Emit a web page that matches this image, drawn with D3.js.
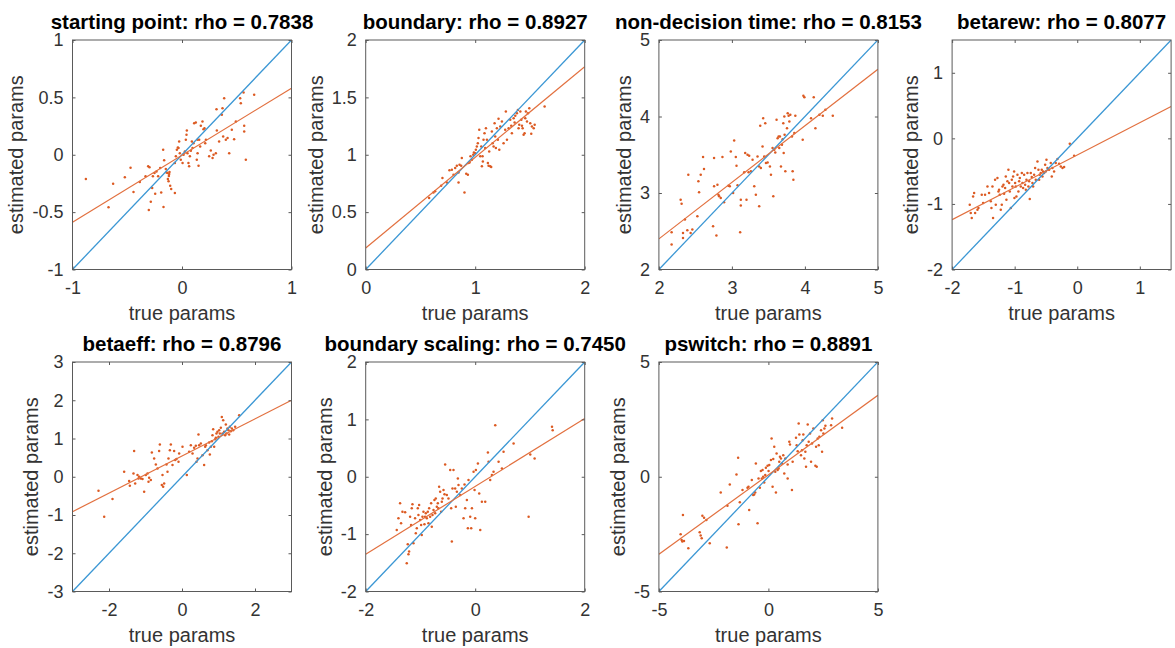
<!DOCTYPE html>
<html>
<head>
<meta charset="utf-8">
<script src="https://cdn.jsdelivr.net/npm/d3@7"></script>
<style>
  html, body { margin: 0; padding: 0; background: #ffffff; }
  svg { display: block; font-family: "Liberation Sans", Arial, Helvetica, sans-serif; }
</style>
</head>
<body>
<script>
// ---------------- data ----------------
const titles = [
  "starting point: rho = 0.7838",
  "boundary: rho = 0.8927",
  "non-decision time: rho = 0.8153",
  "betarew: rho = 0.8077",
  "betaeff: rho = 0.8796",
  "boundary scaling: rho = 0.7450",
  "pswitch: rho = 0.8891"
];
const xLabel = "true params";
const yLabel = "estimated params";

const xDomains = [[-1, 1], [0, 2], [2, 5], [-2, 1.5], [-3, 3], [-2, 2], [-5, 5]];
const yDomains = [[-1, 1], [0, 2], [2, 5], [-2, 1.5], [-3, 3], [-2, 2], [-5, 5]];
const xTicks = [[-1, 0, 1], [0, 1, 2], [2, 3, 4, 5], [-2, -1, 0, 1], [-2, 0, 2], [-2, 0, 2], [-5, 0, 5]];
const yTicks = [[-1, -0.5, 0, 0.5, 1], [0, 0.5, 1, 1.5, 2], [2, 3, 4, 5], [-2, -1, 0, 1],
                [-3, -2, -1, 0, 1, 2, 3], [-2, -1, 0, 1, 2], [-5, 0, 5]];

// regression (fit) lines: estimated = intercept + slope * true
const fitSlope     = [0.584, 0.790, 0.739, 0.493, 0.4855, 0.591, 0.693];
const fitIntercept = [-0.004, 0.188, 0.922, -0.254, 0.543, -0.168, 0.087];

// scatter points [true, estimated]
const ptsStart = [[-0.878,-0.212],[-0.671,-0.458],[-0.629,-0.252],[-0.522,-0.197],[-0.470,-0.113],[-0.443,-0.325],[-0.385,-0.238],[-0.333,-0.188],[-0.309,-0.101],[-0.297,-0.110],[-0.303,-0.481],[-0.285,-0.409],[-0.272,-0.290],[-0.266,-0.188],[-0.251,-0.159],[-0.245,-0.339],[-0.233,-0.145],[-0.218,-0.188],[-0.199,-0.116],[-0.190,-0.330],[-0.172,0.043],[-0.169,-0.455],[-0.163,-0.049],[-0.148,-0.125],[-0.142,-0.154],[-0.132,-0.159],[-0.129,-0.212],[-0.123,-0.232],[-0.120,-0.186],[-0.117,-0.168],[-0.114,-0.151],[-0.108,-0.270],[-0.099,-0.299],[-0.065,-0.333],[-0.065,-0.072],[-0.056,-0.014],[-0.047,0.043],[-0.038,0.064],[-0.026,0.116],[-0.032,0.058],[-0.020,0.014],[-0.011,-0.043],[0.005,-0.072],[0.014,0.000],[0.026,0.029],[0.035,0.130],[0.041,0.174],[0.044,0.212],[0.050,0.014],[0.059,-0.072],[0.065,-0.101],[0.072,-0.014],[0.081,0.035],[0.090,0.116],[0.096,0.058],[0.105,0.101],[0.111,0.275],[0.126,0.281],[0.135,-0.043],[0.142,0.130],[0.142,0.014],[0.151,-0.096],[0.157,0.130],[0.166,0.072],[0.172,0.252],[0.187,0.290],[0.196,0.223],[0.205,0.232],[0.212,0.101],[0.218,0.130],[0.248,-0.014],[0.263,0.038],[0.279,-0.029],[0.288,0.000],[0.309,0.014],[0.315,0.397],[0.318,0.212],[0.339,0.116],[0.364,0.348],[0.370,0.406],[0.376,0.159],[0.385,0.493],[0.400,0.130],[0.416,0.145],[0.431,0.014],[0.455,0.217],[0.476,0.136],[0.492,0.290],[0.531,0.493],[0.537,0.449],[0.562,0.542],[0.568,0.252],[0.568,0.203],[0.583,-0.043],[0.659,0.522]];

const ptsBoundary = [[0.579,0.623],[0.619,0.672],[0.634,0.681],[0.689,0.730],[0.701,0.797],[0.741,0.759],[0.765,0.864],[0.787,0.870],[0.802,0.826],[0.817,0.884],[0.832,0.904],[0.848,0.759],[0.848,0.846],[0.857,0.913],[0.872,0.904],[0.878,0.971],[0.902,0.672],[0.918,0.835],[0.933,0.826],[0.939,0.928],[0.948,0.933],[0.957,0.986],[0.970,0.957],[0.982,1.000],[0.988,1.020],[1.000,1.014],[1.006,1.043],[1.015,1.072],[1.024,1.101],[1.030,1.145],[1.037,1.217],[1.046,0.986],[1.055,1.072],[1.061,0.899],[1.067,0.986],[1.070,0.942],[1.076,1.130],[1.085,1.188],[1.091,1.058],[1.098,1.232],[1.107,1.130],[1.116,0.928],[1.122,0.904],[1.128,1.029],[1.137,0.899],[1.146,0.893],[1.152,1.203],[1.159,1.101],[1.168,1.072],[1.177,1.275],[1.183,1.159],[1.189,1.058],[1.198,1.232],[1.207,1.130],[1.213,1.313],[1.220,1.043],[1.229,1.246],[1.244,1.290],[1.259,1.101],[1.274,1.217],[1.280,1.377],[1.290,1.130],[1.305,1.232],[1.320,1.304],[1.329,1.252],[1.335,1.188],[1.351,1.319],[1.360,1.281],[1.366,1.339],[1.381,1.362],[1.390,1.391],[1.396,1.232],[1.402,1.261],[1.412,1.377],[1.421,1.304],[1.427,1.252],[1.433,1.232],[1.442,1.174],[1.451,1.188],[1.457,1.319],[1.463,1.377],[1.473,1.290],[1.482,1.362],[1.494,1.406],[1.503,1.275],[1.512,1.183],[1.518,1.246],[1.534,1.232],[1.543,1.261],[1.634,1.420]];

const ptsNonDecision = [[2.174,2.487],[2.174,2.326],[2.298,2.913],[2.311,2.861],[2.330,2.478],[2.330,2.413],[2.357,2.652],[2.389,2.513],[2.403,3.239],[2.435,2.478],[2.458,2.522],[2.527,2.696],[2.541,3.152],[2.550,3.009],[2.573,3.239],[2.605,3.470],[2.618,3.313],[2.742,2.565],[2.756,3.457],[2.756,3.087],[2.788,2.443],[2.802,3.109],[2.815,2.978],[2.825,2.957],[2.847,2.935],[2.870,3.470],[2.893,2.878],[2.953,3.096],[2.971,3.087],[2.985,3.543],[3.017,3.000],[3.031,3.687],[3.054,3.470],[3.063,3.357],[3.077,3.100],[3.113,2.487],[3.122,2.913],[3.122,2.835],[3.168,3.270],[3.182,3.522],[3.200,2.913],[3.214,3.500],[3.228,3.270],[3.237,3.487],[3.260,3.283],[3.283,3.435],[3.306,3.087],[3.328,2.978],[3.351,3.478],[3.374,3.348],[3.374,2.826],[3.388,3.878],[3.397,3.326],[3.420,3.609],[3.429,3.978],[3.443,3.478],[3.457,3.913],[3.466,3.391],[3.489,3.400],[3.521,3.348],[3.535,3.239],[3.557,3.587],[3.567,2.957],[3.580,3.565],[3.594,3.530],[3.612,3.957],[3.626,3.717],[3.640,3.739],[3.649,3.587],[3.658,3.739],[3.672,3.348],[3.686,3.630],[3.695,3.704],[3.704,3.913],[3.709,3.522],[3.718,4.000],[3.722,3.761],[3.732,3.283],[3.755,3.848],[3.764,4.043],[3.777,4.009],[3.787,3.935],[3.800,4.022],[3.823,3.739],[3.832,3.283],[3.842,3.174],[3.855,3.783],[3.869,4.009],[3.970,3.696],[3.979,4.270],[3.993,4.252],[4.084,3.978],[4.121,4.252],[4.144,3.848],[4.199,4.022],[4.245,4.009],[4.281,4.087],[4.382,4.009]];

const ptsBetarew = [[-1.718,-1.012],[-1.702,-1.138],[-1.686,-1.215],[-1.664,-0.885],[-1.648,-0.834],[-1.632,-1.138],[-1.595,-1.088],[-1.579,-1.062],[-1.526,-0.859],[-1.504,-0.986],[-1.473,-0.859],[-1.435,-0.733],[-1.409,-0.834],[-1.382,-0.961],[-1.371,-1.062],[-1.355,-0.733],[-1.345,-1.215],[-1.313,-0.631],[-1.302,-1.012],[-1.275,-0.606],[-1.259,-0.809],[-1.249,-0.783],[-1.238,-0.859],[-1.222,-1.088],[-1.206,-1.012],[-1.195,-0.733],[-1.179,-0.707],[-1.169,-0.844],[-1.153,-0.758],[-1.142,-0.580],[-1.132,-0.936],[-1.116,-0.656],[-1.100,-0.479],[-1.089,-0.682],[-1.078,-0.809],[-1.062,-1.062],[-1.046,-0.631],[-1.036,-0.733],[-1.025,-0.580],[-1.009,-0.504],[-1.004,-0.910],[-0.993,-0.682],[-0.982,-0.733],[-0.972,-0.885],[-0.956,-0.555],[-0.940,-0.809],[-0.929,-0.656],[-0.918,-0.606],[-0.902,-0.733],[-0.886,-0.530],[-0.876,-0.682],[-0.865,-0.758],[-0.849,-0.555],[-0.833,-0.707],[-0.822,-0.783],[-0.812,-0.631],[-0.796,-0.530],[-0.780,-0.733],[-0.769,-0.656],[-0.759,-0.925],[-0.743,-0.530],[-0.727,-0.591],[-0.716,-0.682],[-0.705,-0.733],[-0.689,-0.555],[-0.673,-0.453],[-0.663,-0.631],[-0.636,-0.352],[-0.620,-0.479],[-0.609,-0.631],[-0.599,-0.555],[-0.583,-0.530],[-0.567,-0.479],[-0.556,-0.580],[-0.545,-0.504],[-0.529,-0.530],[-0.513,-0.403],[-0.503,-0.504],[-0.492,-0.327],[-0.476,-0.453],[-0.450,-0.479],[-0.423,-0.377],[-0.407,-0.580],[-0.396,-0.453],[-0.370,-0.504],[-0.343,-0.377],[-0.316,-0.316],[-0.290,-0.388],[-0.263,-0.428],[-0.236,-0.453],[-0.210,-0.438],[-0.119,-0.083],[-0.050,-0.266]];

const ptsBetaeff = [[-2.288,-0.365],[-2.132,-1.043],[-1.904,-0.583],[-1.585,0.130],[-1.448,-0.113],[-1.429,-0.235],[-1.329,0.087],[-1.311,0.670],[-1.283,-0.174],[-1.219,0.043],[-1.192,-0.043],[-1.174,0.000],[-1.128,-0.043],[-1.082,-0.061],[-1.037,-0.391],[-0.991,0.043],[-0.945,0.087],[-0.918,-0.130],[-0.900,-0.026],[-0.854,-0.087],[-0.827,0.635],[-0.763,0.478],[-0.717,0.322],[-0.671,0.217],[-0.626,0.670],[-0.607,0.843],[-0.553,-0.217],[-0.534,0.043],[-0.516,-0.261],[-0.489,-0.174],[-0.425,0.322],[-0.397,0.130],[-0.370,0.478],[-0.333,0.696],[-0.306,0.843],[-0.260,0.304],[-0.215,0.670],[-0.187,0.435],[-0.151,0.461],[-0.096,0.391],[-0.078,0.609],[0.014,0.783],[0.132,0.043],[0.196,0.652],[0.242,0.826],[0.288,0.609],[0.333,0.757],[0.379,0.809],[0.397,0.391],[0.425,0.478],[0.452,1.104],[0.470,0.826],[0.516,0.870],[0.562,0.565],[0.607,0.304],[0.635,0.783],[0.653,0.826],[0.698,0.696],[0.744,0.896],[0.762,0.583],[0.790,0.783],[0.817,0.930],[0.835,1.087],[0.854,1.243],[0.881,0.783],[0.908,0.983],[0.927,1.017],[0.945,1.130],[0.972,1.174],[1.000,1.043],[1.018,1.217],[1.036,1.130],[1.064,1.278],[1.091,1.565],[1.109,1.130],[1.128,1.478],[1.155,1.174],[1.182,1.087],[1.201,1.365],[1.219,1.130],[1.246,1.261],[1.274,1.217],[1.292,1.104],[1.310,1.304],[1.338,1.191],[1.365,1.261],[1.402,1.217],[1.456,1.304],[1.566,1.609]];

const ptsBoundScaling = [[-1.433,-0.928],[-1.402,-0.725],[-1.372,-0.464],[-1.354,-0.812],[-1.329,-0.609],[-1.280,-0.620],[-1.250,-1.507],[-1.232,-1.177],[-1.219,-1.351],[-1.207,-1.304],[-1.189,-0.696],[-1.171,-0.841],[-1.159,-0.551],[-1.146,-0.481],[-1.128,-1.159],[-1.098,-0.725],[-1.085,-0.986],[-1.067,-0.899],[-1.049,-0.551],[-1.037,-0.667],[-1.024,-0.493],[-1.006,-0.754],[-0.988,-0.841],[-0.976,-1.014],[-0.963,-0.696],[-0.945,-0.609],[-0.927,-0.829],[-0.915,-0.696],[-0.902,-0.638],[-0.884,-0.725],[-0.866,-0.609],[-0.854,-0.812],[-0.841,-0.551],[-0.823,-0.696],[-0.805,-0.464],[-0.793,-0.870],[-0.780,-0.667],[-0.762,-0.580],[-0.744,-0.406],[-0.732,-0.638],[-0.720,-0.377],[-0.701,-0.522],[-0.683,-0.464],[-0.671,-0.551],[-0.659,-0.174],[-0.640,-0.261],[-0.622,-0.609],[-0.610,-0.435],[-0.597,-0.377],[-0.579,-0.232],[-0.561,-0.307],[-0.549,0.214],[-0.518,-0.319],[-0.488,-0.377],[-0.457,0.116],[-0.439,-0.551],[-0.427,-1.130],[-0.415,-0.203],[-0.396,0.116],[-0.366,-0.203],[-0.354,-0.522],[-0.335,-0.261],[-0.317,-0.029],[-0.305,-0.145],[-0.274,-0.319],[-0.244,-0.203],[-0.213,-0.725],[-0.195,-0.133],[-0.183,-0.551],[-0.152,-0.406],[-0.134,-0.899],[-0.122,-0.058],[-0.091,-0.696],[-0.073,-0.899],[-0.060,-0.551],[-0.030,0.087],[-0.012,-0.232],[0.000,-0.725],[0.012,0.116],[0.049,0.232],[0.073,-0.290],[0.092,-0.928],[0.122,-0.435],[0.183,-0.435],[0.232,0.423],[0.244,0.261],[0.274,-0.058],[0.305,0.029],[0.335,0.087],[0.366,0.899],[0.427,0.261],[0.488,0.145],[0.518,0.435],[0.701,0.580],[0.976,-0.696],[1.006,0.388],[1.085,0.319],[1.403,0.870],[1.415,0.812]];

const ptsPswitch = [[-4.008,-2.507],[-3.962,-2.754],[-3.931,-2.826],[-3.901,-1.667],[-3.855,-2.797],[-3.656,-3.116],[-3.137,-2.420],[-3.092,-2.565],[-3.046,-2.681],[-3.015,-1.696],[-2.939,-1.783],[-2.832,-1.884],[-2.679,-2.899],[-2.176,-0.681],[-1.901,-3.087],[-1.870,-1.261],[-1.763,-0.333],[-1.458,0.101],[-1.382,0.826],[-1.366,-2.072],[-1.305,-1.116],[-1.183,-0.580],[-0.954,-0.478],[-0.908,-0.435],[-0.878,-1.449],[-0.756,-0.145],[-0.695,-0.797],[-0.649,-0.768],[-0.603,-0.681],[-0.573,0.580],[-0.496,-2.029],[-0.450,-0.072],[-0.389,-0.478],[-0.344,0.246],[-0.298,-0.072],[-0.267,0.290],[-0.237,0.000],[-0.191,-0.246],[-0.145,0.072],[-0.115,0.391],[-0.038,0.478],[0.008,0.246],[0.038,0.507],[0.115,0.725],[0.145,1.667],[0.191,-0.435],[0.221,0.768],[0.267,1.304],[0.313,0.217],[0.344,-0.681],[0.374,1.014],[0.420,0.290],[0.466,0.362],[0.496,0.652],[0.527,0.870],[0.573,0.797],[0.618,0.580],[0.679,0.942],[0.725,0.145],[0.771,0.797],[0.878,-0.072],[0.878,0.536],[0.954,1.522],[0.985,1.406],[1.076,-0.580],[1.107,0.652],[1.260,1.696],[1.290,1.377],[1.336,1.116],[1.382,2.319],[1.412,1.841],[1.489,0.942],[1.534,1.159],[1.565,1.594],[1.595,1.841],[1.641,0.797],[1.687,1.087],[1.718,0.435],[1.748,1.377],[1.794,2.275],[1.840,1.522],[1.901,1.884],[1.947,0.652],[1.992,1.449],[2.053,2.101],[2.145,0.478],[2.176,1.304],[2.206,0.435],[2.252,1.667],[2.298,1.377],[2.328,1.739],[2.405,2.029],[2.450,1.087],[2.481,2.464],[2.511,1.884],[2.557,2.101],[2.603,2.217],[2.863,2.246],[2.908,2.536],[3.366,2.130]];

const panelPoints = [ptsStart, ptsBoundary, ptsNonDecision, ptsBetarew, ptsBetaeff, ptsBoundScaling, ptsPswitch];

// ---------------- drawing ----------------
const W = 1175, H = 648;
const colX = [72.5, 365.7, 658.9, 952.1];
const rowY = [40, 362];
const PW = 219, PH = 229.5;

const COL_ID = "#3b97d4";
const COL_FIT = "#e2703f";
const COL_DOT = "#dc5a22";
const COL_AX = "#5a5a5a";
const COL_TXT = "#333333";

const svg = d3.select("body").append("svg").attr("width", W).attr("height", H);
const defs = svg.append("defs");

titles.forEach((title, i) => {
  const x0 = colX[i % 4], y0 = rowY[Math.floor(i / 4)];
  const g = svg.append("g").attr("transform", `translate(${x0},${y0})`);
  const x = d3.scaleLinear().domain(xDomains[i]).range([0, PW]);
  const y = d3.scaleLinear().domain(yDomains[i]).range([PH, 0]);
  const fmt = d => String(d);

  defs.append("clipPath").attr("id", "clip" + i)
    .append("rect").attr("x", 0).attr("y", 0).attr("width", PW).attr("height", PH);

  const plot = g.append("g").attr("clip-path", `url(#clip${i})`);

  // scatter
  plot.selectAll("circle").data(panelPoints[i]).join("circle")
    .attr("cx", d => x(d[0])).attr("cy", d => y(d[1])).attr("r", 1.25)
    .attr("fill", COL_DOT);

  // identity line
  const xd = xDomains[i];
  plot.append("line")
    .attr("x1", x(xd[0])).attr("y1", y(xd[0]))
    .attr("x2", x(xd[1])).attr("y2", y(xd[1]))
    .attr("stroke", COL_ID).attr("stroke-width", 1.3);

  // fit line
  const f = v => fitIntercept[i] + fitSlope[i] * v;
  plot.append("line")
    .attr("x1", x(xd[0])).attr("y1", y(f(xd[0])))
    .attr("x2", x(xd[1])).attr("y2", y(f(xd[1])))
    .attr("stroke", COL_FIT).attr("stroke-width", 1.2);

  // axes (inward ticks on all four sides)
  const styleAxis = sel => {
    sel.select(".domain").remove();
    sel.selectAll(".tick line").attr("stroke", COL_AX).attr("stroke-width", 1);
    sel.selectAll(".tick text").attr("fill", COL_TXT)
      .style("font-size", "18px").style("font-family", '"Liberation Sans", Arial, Helvetica, sans-serif');
    sel.attr("font-family", null).attr("font-size", null);
  };
  const gb = g.append("g").attr("transform", `translate(0,${PH})`)
    .call(d3.axisBottom(x).tickValues(xTicks[i]).tickFormat(fmt).tickSizeInner(-3).tickSizeOuter(0).tickPadding(12));
  styleAxis(gb);
  const gl = g.append("g")
    .call(d3.axisLeft(y).tickValues(yTicks[i]).tickFormat(fmt).tickSizeInner(-3).tickSizeOuter(0).tickPadding(9));
  styleAxis(gl);
  const gt = g.append("g")
    .call(d3.axisTop(x).tickValues(xTicks[i]).tickFormat("").tickSizeInner(-3).tickSizeOuter(0));
  styleAxis(gt);
  const gr = g.append("g").attr("transform", `translate(${PW},0)`)
    .call(d3.axisRight(y).tickValues(yTicks[i]).tickFormat("").tickSizeInner(-3).tickSizeOuter(0));
  styleAxis(gr);

  // box
  g.append("rect").attr("x", 0).attr("y", 0).attr("width", PW).attr("height", PH)
    .attr("fill", "none").attr("stroke", COL_AX).attr("stroke-width", 1);

  // labels
  let maxW = 0;
  gl.selectAll(".tick text").each(function () { maxW = Math.max(maxW, this.getComputedTextLength()); });

  g.append("text").attr("x", PW / 2).attr("y", PH + 50)
    .attr("text-anchor", "middle").attr("fill", COL_TXT)
    .style("font-size", "20px").text(xLabel);

  g.append("text")
    .attr("transform", `translate(${-(9 + maxW + 9)},${PH / 2}) rotate(-90)`)
    .attr("text-anchor", "middle").attr("fill", COL_TXT)
    .style("font-size", "20px").text(yLabel);

  g.append("text").attr("x", PW / 2).attr("y", -11)
    .attr("text-anchor", "middle").attr("fill", "#000")
    .style("font-size", "20.5px").style("font-weight", "bold").text(title);
});
</script>
</body>
</html>
